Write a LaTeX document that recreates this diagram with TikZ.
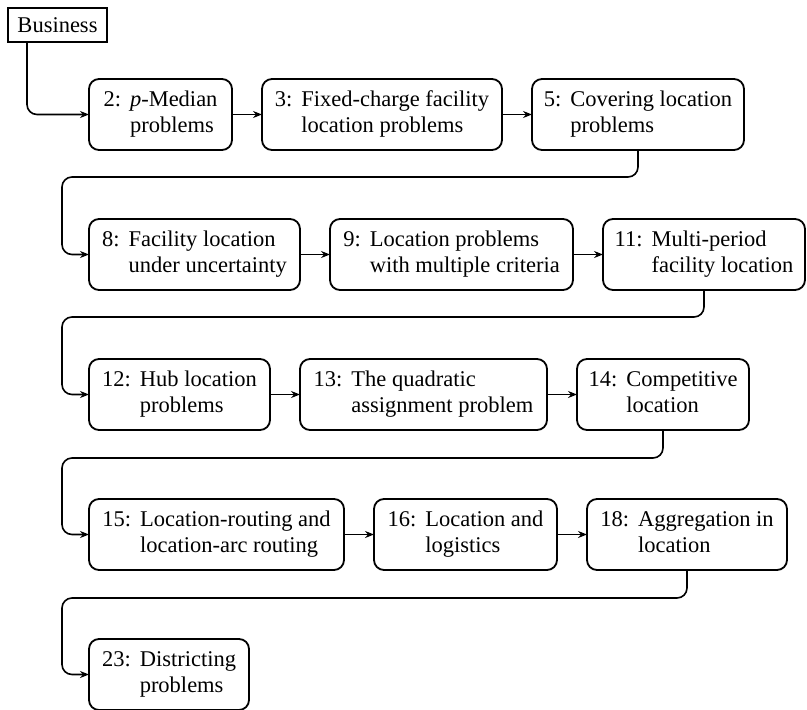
\documentclass[tikz,border=0pt]{standalone}
\usepackage{fontspec}
\setmainfont{Liberation Serif}
\usetikzlibrary{arrows.meta}

% chapter entry: number column plus a two-line title with hanging indent
\newcommand{\ctext}[3]{\begin{tabular}{@{}l@{\hspace{9pt}}l@{}}#1 & #2\\ & #3\end{tabular}}

\tikzset{
  chap/.style={draw, line width=1.8pt, rounded corners=10pt, anchor=north west,
    minimum height=71pt, outer sep=0pt, inner sep=0pt,
    font=\fontsize{22.5}{26}\selectfont},
  topic/.style={draw, line width=1.4pt, anchor=north west, minimum width=99pt,
    minimum height=34pt, outer sep=0pt, inner sep=0pt,
    font=\fontsize{22.5}{26}\selectfont},
  flow/.style={line width=1.6pt, -{Stealth[length=9pt,width=7pt,inset=3pt]}},
  wrap/.style={flow, rounded corners=10pt}
}

\begin{document}
\begin{tikzpicture}[x=1pt, y=-1pt]
  \fill[white] (0,0) rectangle (807,710);
  \useasboundingbox (0,0) rectangle (807,710);

  \node[topic] (biz) at (8,8) {Business};

  % row 1
  \node[chap, minimum width=143pt] (c2)  at (89,79)  {\ctext{2:}{\textit{p}-Median}{problems}};
  \node[chap, minimum width=240pt] (c3)  at (262,79) {\ctext{3:}{Fixed-charge facility}{location problems}};
  \node[chap, minimum width=212pt] (c5)  at (532,79) {\ctext{5:}{Covering location}{problems}};
  % row 2
  \node[chap, minimum width=211pt] (c8)  at (89,219)  {\ctext{8:}{Facility location}{under uncertainty}};
  \node[chap, minimum width=243pt] (c9)  at (330,219) {\ctext{9:}{Location problems}{with multiple criteria}};
  \node[chap, minimum width=202pt] (c11) at (603,219) {\ctext{11:}{Multi-period}{facility location}};
  % row 3
  \node[chap, minimum width=181pt] (c12) at (89,359)  {\ctext{12:}{Hub location}{problems}};
  \node[chap, minimum width=247pt] (c13) at (300,359) {\ctext{13:}{The quadratic}{assignment problem}};
  \node[chap, minimum width=172pt] (c14) at (577,359) {\ctext{14:}{Competitive}{location}};
  % row 4
  \node[chap, minimum width=255pt] (c15) at (89,499)  {\ctext{15:}{Location-routing and}{location-arc routing}};
  \node[chap, minimum width=183pt] (c16) at (374,499) {\ctext{16:}{Location and}{logistics}};
  \node[chap, minimum width=200pt] (c18) at (587,499) {\ctext{18:}{Aggregation in}{location}};
  % row 5
  \node[chap, minimum width=160pt] (c23) at (89,639)  {\ctext{23:}{Districting}{problems}};

  % entry into the sequence
  \draw[wrap] ([xshift=19pt]biz.south west) |- (c2.west);

  % links within rows
  \draw[flow] (c2.east)  -- (c3.west);
  \draw[flow] (c3.east)  -- (c5.west);
  \draw[flow] (c8.east)  -- (c9.west);
  \draw[flow] (c9.east)  -- (c11.west);
  \draw[flow] (c12.east) -- (c13.west);
  \draw[flow] (c13.east) -- (c14.west);
  \draw[flow] (c15.east) -- (c16.west);
  \draw[flow] (c16.east) -- (c18.west);

  % links wrapping to the next row
  \draw[wrap] (c5.south)  |- (62,177) |- (c8.west);
  \draw[wrap] (c11.south) |- (62,317) |- (c12.west);
  \draw[wrap] (c14.south) |- (62,458) |- (c15.west);
  \draw[wrap] (c18.south) |- (62,598) |- (c23.west);
\end{tikzpicture}
\end{document}
